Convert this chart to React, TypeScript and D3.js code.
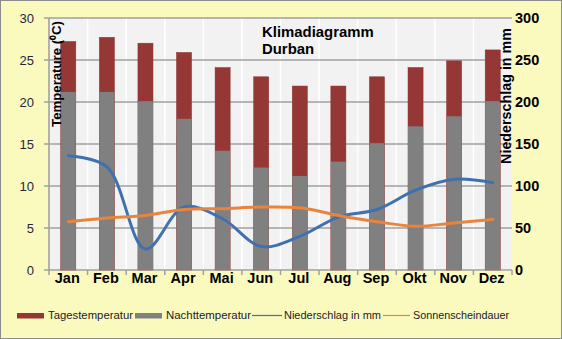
import React from "react";
import * as d3 from "d3";

const months = ["Jan", "Feb", "Mar", "Apr", "Mai", "Jun", "Jul", "Aug", "Sep", "Okt", "Nov", "Dez"];
const dayTemp = [27.2, 27.7, 27.0, 25.9, 24.1, 23.0, 21.9, 21.9, 23.0, 24.1, 24.9, 26.2];
const nightTemp = [21.2, 21.2, 20.1, 18.0, 14.2, 12.2, 11.2, 12.9, 15.1, 17.1, 18.3, 20.1];
const precipitation = [136, 123, 25, 75, 61, 28, 40, 63, 72, 95, 108, 104];
const sunshine = [5.75, 6.2, 6.5, 7.2, 7.3, 7.5, 7.4, 6.5, 5.75, 5.2, 5.6, 6.0];
const leftTicks = [0, 5, 10, 15, 20, 25, 30];
const rightTicks = [0, 50, 100, 150, 200, 250, 300];

const W = 562, H = 339;
const L = 49, R = 512, T = 18, B = 270;

export default function App() {
  const x = d3.scaleBand<string>().domain(months).range([L, R]).paddingInner(0.61).paddingOuter(0.305);
  const xb = d3.scaleBand<string>().domain(months).range([L, R]);
  const yL = d3.scaleLinear().domain([0, 30]).range([B, T]);
  const yR = d3.scaleLinear().domain([0, 300]).range([B, T]);
  const cx = (m: string) => (xb(m) as number) + xb.bandwidth() / 2;

  const precipLine = d3.line<number>()
    .x((_, i) => cx(months[i]))
    .y((d) => yR(d))
    .curve(d3.curveCatmullRom.alpha(0.5));
  const sunLine = d3.line<number>()
    .x((_, i) => cx(months[i]))
    .y((d) => yL(d))
    .curve(d3.curveCatmullRom.alpha(0.5));

  const boundaries = months.map((m) => xb(m) as number).concat([R]);

  return (
    <svg width={W} height={H} style={{ position: "absolute", left: 0, top: 0 }} fontFamily="Liberation Sans, Arial, sans-serif">
      <rect x={0.5} y={0.5} width={W - 1} height={H - 1} fill="#fafabe" stroke="#8c8c8c" />
      <rect x={L} y={T} width={R - L} height={B - T} fill="#f2f2f2" />
      {boundaries.slice(1, -1).map((b, i) => (
        <line key={"vg" + i} x1={b} x2={b} y1={T} y2={B} stroke="#ffffff" strokeWidth={1.5} />
      ))}
      {leftTicks.map((t) => (
        <line key={"hg" + t} x1={L - 5} x2={R} y1={yL(t)} y2={yL(t)} stroke="#a0a0a0" strokeWidth={1.6} />
      ))}
      {boundaries.map((b, i) => (
        <line key={"xt" + i} x1={b} x2={b} y1={B} y2={B + 5} stroke="#a0a0a0" strokeWidth={1.5} />
      ))}
      <line x1={L} x2={L} y1={T} y2={B} stroke="#a0a0a0" strokeWidth={1.6} />
      {months.map((m, i) => (
        <rect key={"d" + m} x={x(m)} y={yL(dayTemp[i])} width={x.bandwidth()} height={B - yL(dayTemp[i])} fill="#953735" stroke="#8a2f2d" strokeWidth={0.5} />
      ))}
      {months.map((m, i) => (
        <rect key={"n" + m} x={x(m)} y={yL(nightTemp[i])} width={x.bandwidth()} height={B - yL(nightTemp[i])} fill="#808080" />
      ))}
      <path d={precipLine(precipitation) || ""} fill="none" stroke="#3f70b0" strokeWidth={3} strokeLinecap="round" />
      <path d={sunLine(sunshine) || ""} fill="none" stroke="#e8843c" strokeWidth={3} strokeLinecap="round" />
      {leftTicks.map((t) => (
        <text key={"lt" + t} x={34} y={yL(t)} dy="0.35em" textAnchor="end" fontSize={13} fill="#1f2640">{t}</text>
      ))}
      {rightTicks.map((t) => (
        <text key={"rt" + t} x={515} y={yR(t)} dy="0.36em" textAnchor="start" fontSize={14.5} fontWeight="bold" fill="#000">{t}</text>
      ))}
      {months.map((m) => (
        <text key={"ml" + m} x={cx(m) - 1} y={283} textAnchor="middle" fontSize={14.5} fontWeight="bold" fill="#000">{m}</text>
      ))}
      <text transform="translate(61,21) rotate(-90)" textAnchor="end" fontSize={13.2} fontWeight="bold" fill="#000">Temperature (⁰C)</text>
      <text transform="translate(511,28) rotate(-90)" textAnchor="end" fontSize={14.3} fontWeight="bold" fill="#000">Niederschlag in mm</text>
      <text x={262} y={37} fontSize={14.9} fontWeight="bold" fill="#000">Klimadiagramm</text>
      <text x={262} y={54} fontSize={14.9} fontWeight="bold" fill="#000">Durban</text>
      <g fontSize={11} fill="#1a1a2a">
        <rect x={17} y={313} width={27} height={5.5} fill="#953735" />
        <text x={48} y={319} textLength={85} lengthAdjust="spacingAndGlyphs">Tagestemperatur</text>
        <rect x={135} y={313} width={27} height={5.5} fill="#808080" />
        <text x={166} y={319} textLength={85} lengthAdjust="spacingAndGlyphs">Nachttemperatur</text>
        <line x1={252} x2={282} y1={315.5} y2={315.5} stroke="#3f70b0" strokeWidth={1.2} />
        <text x={284} y={319} textLength={97} lengthAdjust="spacingAndGlyphs">Niederschlag in mm</text>
        <line x1={383} x2={410} y1={315.5} y2={315.5} stroke="#e8843c" strokeWidth={1.2} />
        <text x={413} y={319} textLength={96} lengthAdjust="spacingAndGlyphs">Sonnenscheindauer</text>
      </g>
    </svg>
  );
}
